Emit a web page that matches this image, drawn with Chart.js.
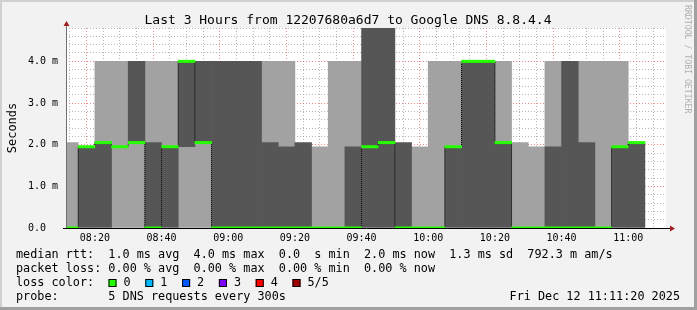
<!DOCTYPE html>
<html>
<head>
<meta charset="utf-8">
<script src="https://cdn.jsdelivr.net/npm/chart.js@4/dist/chart.umd.min.js"></script>
<style>
  html, body { margin: 0; padding: 0; background: #f2f2f2; }
  canvas { display: block; }
</style>
</head>
<body>
<canvas id="smoke" width="697" height="310"></canvas>
<script>
// 5 minute slots (start of each step)
const slots = ['08:10', '08:15', '08:20', '08:25', '08:30', '08:35', '08:40', '08:45', '08:50', '08:55',
  '09:00', '09:05', '09:10', '09:15', '09:20', '09:25', '09:30', '09:35', '09:40', '09:45',
  '09:50', '09:55', '10:00', '10:05', '10:10', '10:15', '10:20', '10:25', '10:30', '10:35',
  '10:40', '10:45', '10:50', '10:55', '11:00'];

// median rtt in ms
const median = [0, 1.95, 2.05, 1.95, 2.05, 0, 1.95, 4.0, 2.05, 0,
  0, 0, 0, 0, 0, 0, 0, 0, 1.95, 2.05,
  0, 0, 0, 1.95, 4.0, 4.0, 2.05, 0, 0, 0,
  0, 0, 0, 1.95, 2.05];

// smoke bands [from, to] in ms
const darkSmoke = [null, [0, 1.95], [0, 2.05], null, [2.05, 4.0], [0, 2.05], [0, 1.95], [1.95, 4.0], [2.05, 4.0], [0, 4.0],
  [0, 4.0], [0, 4.0], [0, 2.05], [0, 1.95], [0, 2.05], null, null, [0, 1.95], [0, 4.8], [0, 4.8],
  [0, 2.05], null, null, [0, 1.95], [0, 4.0], [0, 4.0], [0, 2.05], null, null, [0, 1.95],
  [0, 4.0], [0, 2.05], null, [0, 1.95], [0, 2.05]];
const lightSmoke = [[0, 2.05], null, [2.05, 4.0], [0, 4.0], [0, 2.05], [2.05, 4.0], [1.95, 4.0], [0, 1.95], [0, 2.05], null,
  null, null, [2.05, 4.0], [1.95, 4.0], null, [0, 1.95], [0, 4.0], [1.95, 4.0], null, null,
  null, [0, 1.95], [0, 4.0], [1.95, 4.0], null, null, [2.05, 4.0], [0, 2.05], [0, 1.95], [1.95, 4.0],
  null, [2.05, 4.0], [0, 4.0], [1.95, 4.0], null];

const timeTicks = ['08:20', '08:40', '09:00', '09:20', '09:40', '10:00', '10:20', '10:40', '11:00'];
const msTicks = ['0.0', '1.0 m', '2.0 m', '3.0 m', '4.0 m'];

const lossColors = ['#26ff00', '#00b8ff', '#0059ff', '#7e00ff', '#ff0000', '#a10000'];
const lossLabels = ['0', '1', '2', '3', '4', '5/5'];

const title = 'Last 3 Hours from 12207680a6d7 to Google DNS 8.8.4.4';
const statLines = [
  'median rtt:  1.0 ms avg  4.0 ms max  0.0  s min  2.0 ms now  1.3 ms sd  792.3 m am/s',
  'packet loss: 0.00 % avg  0.00 % max  0.00 % min  0.00 % now',
  'loss color:',
  'probe:       5 DNS requests every 300s'
];
const stamp = 'Fri Dec 12 11:11:20 2025';

const toMin = s => { const [h, m] = s.split(':').map(Number); return h * 60 + m; };
const fmt = v => String(Math.floor(v / 60)).padStart(2, '0') + ':' + String(Math.round(v % 60)).padStart(2, '0');
const mid = s => toMin(s) + 2.5;
const tEnd = toMin('11:11') + 20 / 60;
const tStart = tEnd - 180;

const mono = '"DejaVu Sans Mono", monospace';
const majorGrid = 'rgba(235,110,110,0.8)';
const minorGrid = 'rgba(170,170,170,0.85)';

const bands = (arr) => slots.map((s, i) => arr[i] ? { x: mid(s), y: arr[i] } : null).filter(Boolean);
const isWhole = v => Math.abs(v - Math.round(v)) < 1e-6;

const decor = {
  id: 'decor',
  beforeDraw(chart) {
    const { ctx, chartArea: a } = chart;
    ctx.save();
    ctx.fillStyle = '#f2f2f2';
    ctx.fillRect(0, 0, chart.width, chart.height);
    ctx.fillStyle = '#ffffff';
    ctx.fillRect(a.left, a.top, a.right - a.left, a.bottom - a.top);
    ctx.restore();
  },
  afterDraw(chart) {
    const { ctx, chartArea: a } = chart;
    ctx.save();
    // frame
    ctx.fillStyle = '#d0d0d0';
    ctx.fillRect(0, 0, chart.width, 2);
    ctx.fillRect(0, 0, 2, chart.height);
    ctx.fillStyle = '#a0a0a0';
    ctx.fillRect(0, chart.height - 3, chart.width, 3);
    ctx.fillRect(chart.width - 3, 0, 3, chart.height);

    // axes
    ctx.lineWidth = 1;
    ctx.strokeStyle = '#707070';
    ctx.beginPath();
    ctx.moveTo(a.left + 0.5, a.top - 3);
    ctx.lineTo(a.left + 0.5, a.bottom);
    ctx.stroke();
    ctx.strokeStyle = '#000';
    ctx.beginPath();
    ctx.moveTo(a.left - 3, a.bottom + 0.5);
    ctx.lineTo(a.right + 4, a.bottom + 0.5);
    ctx.stroke();
    ctx.fillStyle = '#a11d1d';
    ctx.beginPath();
    ctx.moveTo(a.left - 2.5, a.top - 2);
    ctx.lineTo(a.left + 3.5, a.top - 2);
    ctx.lineTo(a.left + 0.5, a.top - 7);
    ctx.closePath();
    ctx.fill();
    ctx.beginPath();
    ctx.moveTo(a.right + 4, a.bottom - 2.5);
    ctx.lineTo(a.right + 4, a.bottom + 3.5);
    ctx.lineTo(a.right + 9, a.bottom + 0.5);
    ctx.closePath();
    ctx.fill();

    // title
    ctx.fillStyle = '#000';
    ctx.font = '13px ' + mono;
    ctx.textAlign = 'center';
    ctx.textBaseline = 'alphabetic';
    ctx.fillText(title, 348, 24);

    // y axis title
    ctx.save();
    ctx.translate(15.5, (a.top + a.bottom) / 2);
    ctx.rotate(-Math.PI / 2);
    ctx.font = '12px ' + mono;
    ctx.fillText('Seconds', 0, 0);
    ctx.restore();

    // watermark
    ctx.save();
    ctx.translate(685, 5);
    ctx.rotate(Math.PI / 2);
    ctx.font = '8.2px ' + mono;
    ctx.fillStyle = '#b0b0b0';
    ctx.textAlign = 'left';
    ctx.fillText('RRDTOOL / TOBI OETIKER', 0, 0);
    ctx.restore();

    // legend lines
    ctx.font = '11.8px ' + mono;
    ctx.textAlign = 'left';
    ctx.fillStyle = '#000';
    statLines.forEach((line, i) => ctx.fillText(line, 16, 258 + i * 14));
    lossColors.forEach((c, i) => {
      const x = 108.5 + i * 36.8;
      ctx.fillStyle = c;
      ctx.fillRect(x, 279, 8, 8);
      ctx.strokeStyle = '#000';
      ctx.strokeRect(x + 0.5, 279.5, 7, 7);
      ctx.fillStyle = '#000';
      ctx.fillText(lossLabels[i], x + 15, 286);
    });
    ctx.textAlign = 'right';
    ctx.fillText(stamp, 680, 300);
    ctx.restore();
  }
};

const ctx = document.getElementById('smoke');
const config = {
  type: 'bar',
  data: {
    datasets: [{
      label: 'median',
      data: slots.map((s, i) => ({ x: mid(s), y: [median[i] - 0.028, median[i] + 0.028] })),
      backgroundColor: lossColors[0],
      grouped: false,
      barPercentage: 1,
      categoryPercentage: 1
    }, {
      type: 'line',
      label: 'steps',
      data: slots.map((s, i) => ({ x: mid(s), y: median[i] })),
      stepped: 'middle',
      borderColor: '#000',
      borderWidth: 1,
      borderDash: [1, 1],
      pointRadius: 0
    }, {
      label: 'dark smoke',
      data: bands(darkSmoke),
      backgroundColor: '#565656',
      grouped: false,
      barPercentage: 1,
      categoryPercentage: 1
    }, {
      label: 'light smoke',
      data: bands(lightSmoke),
      backgroundColor: '#a2a2a2',
      grouped: false,
      barPercentage: 1,
      categoryPercentage: 1
    }]
  },
  options: {
    responsive: false,
    animation: false,
    devicePixelRatio: 1,
    events: [],
    layout: { padding: { top: 28, left: 28, right: 31, bottom: 0 } },
    plugins: { legend: { display: false }, tooltip: { enabled: false } },
    scales: {
      x: {
        type: 'linear',
        min: tStart,
        max: tEnd,
        offset: false,
        z: 1,
        afterBuildTicks: s => {
          const ticks = [];
          for (let t = toMin('08:15'); t <= tEnd; t += 5) ticks.push({ value: t });
          s.ticks = ticks;
        },
        afterFit: s => { s.height = 82; },
        grid: {
          drawTicks: false,
          color: c => (c.tick && timeTicks.includes(fmt(c.tick.value))) ? majorGrid : minorGrid
        },
        border: { display: false, dash: [1, 2] },
        ticks: {
          autoSkip: false,
          maxRotation: 0,
          padding: 4,
          color: '#000',
          font: { family: mono, size: 10 },
          callback: v => timeTicks.includes(fmt(v)) ? fmt(v) : ''
        }
      },
      y: {
        min: 0,
        max: 4.8,
        z: 1,
        afterBuildTicks: s => {
          const ticks = [];
          for (let i = 0; i <= 24; i++) ticks.push({ value: i / 5 });
          s.ticks = ticks;
        },
        afterFit: s => { s.width = 38; },
        grid: {
          drawTicks: false,
          color: c => {
            if (!c.tick) return minorGrid;
            const v = c.tick.value;
            if (v < 0.01) return 'rgba(0,0,0,0)';
            return isWhole(v) ? majorGrid : minorGrid;
          }
        },
        border: { display: false, dash: [1, 2] },
        ticks: {
          autoSkip: false,
          crossAlign: 'far',
          padding: 0,
          color: '#000',
          font: { family: mono, size: 10 },
          callback: v => isWhole(v) ? msTicks[Math.round(v)] : ''
        }
      }
    }
  },
  plugins: [decor]
};
new Chart(ctx, config);
</script>
</body>
</html>
